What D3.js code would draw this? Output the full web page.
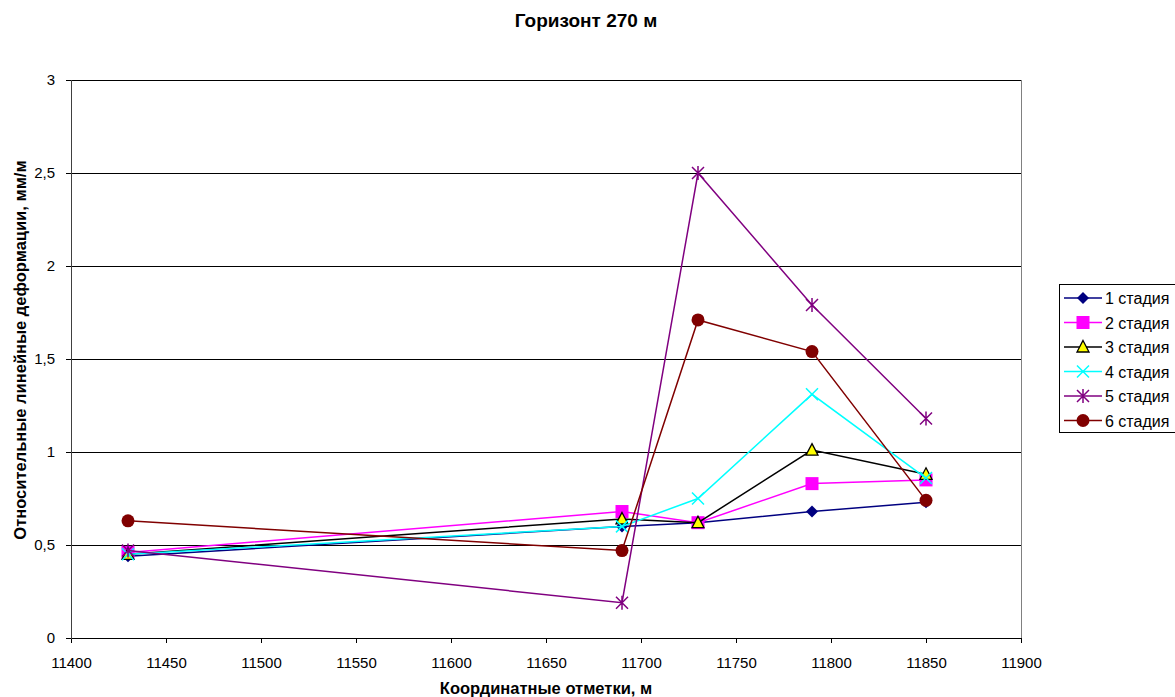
<!DOCTYPE html>
<html>
<head>
<meta charset="utf-8">
<script src="https://cdn.jsdelivr.net/npm/d3@7/dist/d3.min.js"></script>
<style>
  body { margin: 0; background: #fff; }
  svg { display: block; font-family: "Liberation Sans", Arial, sans-serif; }
</style>
</head>
<body>
<svg id="chart" width="1175" height="697"></svg>
<script>
// Measurement points along the horizon, m
const xPositions = [11430, 11690, 11730, 11790, 11850];

// Relative linear deformation per survey stage, mm/m
const stage1 = [0.44, 0.60, 0.62, 0.68, 0.73];
const stage2 = [0.46, 0.68, 0.62, 0.83, 0.85];
const stage3 = [0.45, 0.64, 0.62, 1.01, 0.88];
const stage4 = [0.45, 0.60, 0.75, 1.31, 0.86];
const stage5 = [0.47, 0.19, 2.50, 1.79, 1.18];
const stage6 = [0.63, 0.47, 1.71, 1.54, 0.74];

const seriesNames = ["1 стадия", "2 стадия", "3 стадия", "4 стадия", "5 стадия", "6 стадия"];
const seriesValues = [stage1, stage2, stage3, stage4, stage5, stage6];
const seriesColors = ["#000080", "#FF00FF", "#000000", "#00FFFF", "#800080", "#800000"];
const seriesMarkers = ["diamond", "square", "triangle", "cross", "star", "circle"];

const xTicks = [11400, 11450, 11500, 11550, 11600, 11650, 11700, 11750, 11800, 11850, 11900];
const yTicks = [0, 0.5, 1, 1.5, 2, 2.5, 3];

const svg = d3.select("#chart");
const plot = { left: 71, right: 1021, top: 80, bottom: 638 };

const x = d3.scaleLinear().domain([11400, 11900]).range([plot.left, plot.right]);
const y = d3.scaleLinear().domain([0, 3]).range([plot.bottom, plot.top]);
const fmt = d => String(d).replace(".", ",");

// Horizontal gridlines
svg.append("g")
  .selectAll("line")
  .data(yTicks.filter(d => d > 0))
  .join("line")
  .attr("x1", plot.left).attr("x2", plot.right)
  .attr("y1", d => y(d)).attr("y2", d => y(d))
  .attr("stroke", "#000").attr("stroke-width", 1).attr("shape-rendering", "crispEdges");

// Plot area right border
svg.append("line")
  .attr("x1", plot.right).attr("x2", plot.right)
  .attr("y1", plot.top).attr("y2", plot.bottom)
  .attr("stroke", "#808080").attr("shape-rendering", "crispEdges");

// Axes
const xAxis = d3.axisBottom(x).tickValues(xTicks).tickSize(5).tickPadding(14).tickFormat(d => d);
const yAxis = d3.axisLeft(y).tickValues(yTicks).tickSize(5).tickPadding(11).tickFormat(fmt);

const gx = svg.append("g").attr("transform", `translate(0,${plot.bottom})`).call(xAxis);
const gy = svg.append("g").attr("transform", `translate(${plot.left},0)`).call(yAxis);
[gx, gy].forEach(g => {
  g.select(".domain").attr("stroke", "#000").attr("shape-rendering", "crispEdges");
  g.selectAll(".tick line").attr("stroke", "#000").attr("shape-rendering", "crispEdges");
  g.selectAll(".tick text").attr("fill", "#000").attr("font-size", 15)
    .attr("font-family", "Liberation Sans, Arial, sans-serif");
});
gy.select(".domain").attr("stroke", "#404040").attr("stroke-width", 1.5);

// Marker drawing
function drawMarker(g, type, color) {
  switch (type) {
    case "diamond":
      g.append("path").attr("d", "M0,-6L6,0L0,6L-6,0Z").attr("fill", color);
      break;
    case "square":
      g.append("rect").attr("x", -6.5).attr("y", -6.5).attr("width", 13).attr("height", 13).attr("fill", color);
      break;
    case "triangle":
      g.append("path").attr("d", "M0,-6.5L6,5L-6,5Z")
        .attr("fill", "#FFFF00").attr("stroke", "#000").attr("stroke-width", 1.3);
      break;
    case "cross":
      g.append("path").attr("d", "M-6,-6L6,6M6,-6L-6,6")
        .attr("stroke", color).attr("stroke-width", 1.5).attr("fill", "none");
      break;
    case "star":
      g.append("path").attr("d", "M-6,-6L6,6M6,-6L-6,6M0,-7L0,7")
        .attr("stroke", color).attr("stroke-width", 1.5).attr("fill", "none");
      break;
    case "circle":
      g.append("circle").attr("r", 6.5).attr("fill", color);
      break;
  }
}

// Series lines and markers
const line = d3.line().x((d, i) => x(xPositions[i])).y(d => y(d));
seriesValues.forEach((vals, k) => {
  const g = svg.append("g");
  g.append("path").datum(vals).attr("d", line)
    .attr("fill", "none").attr("stroke", seriesColors[k]).attr("stroke-width", 1.5);
  vals.forEach((v, i) => {
    const m = g.append("g").attr("transform", `translate(${x(xPositions[i])},${y(v)})`);
    drawMarker(m, seriesMarkers[k], seriesColors[k]);
  });
});

// Titles
svg.append("text").attr("x", 586).attr("y", 27).attr("text-anchor", "middle")
  .attr("font-size", 19).attr("font-weight", "bold").text("Горизонт 270 м");
svg.append("text").attr("x", 546).attr("y", 694).attr("text-anchor", "middle")
  .attr("font-size", 16.5).attr("font-weight", "bold").text("Координатные отметки, м");
svg.append("text").attr("transform", "translate(26,350) rotate(-90)").attr("text-anchor", "middle")
  .attr("font-size", 16.5).attr("font-weight", "bold").text("Относительные линейные деформации, мм/м");

// Legend
const legend = svg.append("g").attr("transform", "translate(1059,284)");
legend.append("rect").attr("x", 0.5).attr("y", 0.5).attr("width", 130).attr("height", 148)
  .attr("fill", "#fff").attr("stroke", "#000");
seriesNames.forEach((name, k) => {
  const row = legend.append("g").attr("transform", `translate(0,${14 + k * 24.5})`);
  row.append("line").attr("x1", 5).attr("x2", 43).attr("y1", 0).attr("y2", 0)
    .attr("stroke", seriesColors[k]).attr("stroke-width", 1.5);
  drawMarker(row.append("g").attr("transform", "translate(24,0)"), seriesMarkers[k], seriesColors[k]);
  row.append("text").attr("x", 46).attr("y", 6).attr("font-size", 16).attr("fill", "#000").text(name);
});
</script>
</body>
</html>
